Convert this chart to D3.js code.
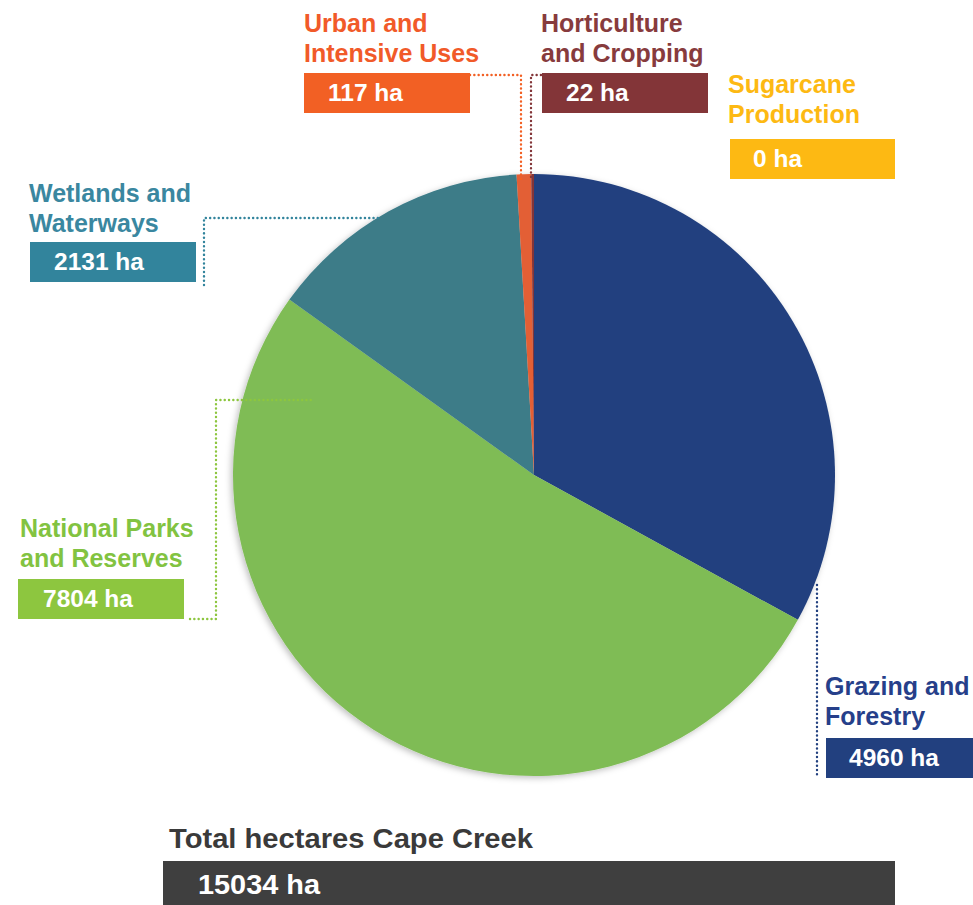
<!DOCTYPE html>
<html>
<head>
<meta charset="utf-8">
<script src="https://cdn.jsdelivr.net/npm/d3@7"></script>
<style>
	body { margin: 0; background: #fff; }
	svg { display: block; }
	.lbl { font-family: 'Liberation Sans', Arimo, sans-serif; font-weight: bold; font-size: 25px; }
	.val { font-family: 'Liberation Sans', Arimo, sans-serif; font-weight: bold; font-size: 24.5px; fill: #fff; }
</style>
</head>
<body>
<div id="chart"></div>
<script>
// land use categories, clockwise from 12 o'clock
const categories = [
	"Grazing and Forestry",
	"National Parks and Reserves",
	"Wetlands and Waterways",
	"Urban and Intensive Uses",
	"Horticulture and Cropping",
	"Sugarcane Production",
];
const hectares = [4960, 7804, 2131, 117, 22, 0];
const labelLines = [
	["Grazing and", "Forestry"],
	["National Parks", "and Reserves"],
	["Wetlands and", "Waterways"],
	["Urban and", "Intensive Uses"],
	["Horticulture", "and Cropping"],
	["Sugarcane", "Production"],
];
const sliceColors = ["#22407f", "#7fbc55", "#3c7b88", "#e35f35", "#833538", "#fdb913"];
const boxColors = ["#22407f", "#8dc63f", "#32849c", "#f26024", "#833538", "#fdb913"];
const textColors = ["#263f8a", "#82c341", "#3a87a0", "#f15a29", "#873b3d", "#fdb913"];
const totalTitle = "Total hectares Cape Creek";
const totalValue = 15034;

// label layout (text left x, first baseline y, box x/y/width)
const layout = [
	{ tx: 825, ty: 695, bx: 826, by: 738, bw: 160, vx: 849 },
	{ tx: 20, ty: 537, bx: 18, by: 579, bw: 166, vx: 43 },
	{ tx: 29, ty: 202, bx: 30, by: 242, bw: 166, vx: 54 },
	{ tx: 304, ty: 32, bx: 304, by: 73, bw: 166, vx: 328 },
	{ tx: 541, ty: 32, bx: 542, by: 73, bw: 166, vx: 566 },
	{ tx: 728, ty: 93, bx: 730, by: 139, bw: 165, vx: 753 },
];
// dotted leader lines
const leaders = [
	[[817, 585], [817, 778]],
	[[190, 619], [216, 619], [216, 400], [312, 400]],
	[[204, 285], [204, 218], [380, 218]],
	[[470, 75], [521, 75], [521, 180]],
	[[541, 75], [531, 75], [531, 180]],
	null,
];

const W = 973, H = 905;
const cx = 534, cy = 475, radius = 301;

const svg = d3.select("#chart")
	.append("svg")
	.attr("width", W)
	.attr("height", H);

const defs = svg.append("defs");
defs.append("filter")
	.attr("id", "shadow")
	.attr("x", "-10%").attr("y", "-10%")
	.attr("width", "120%").attr("height", "120%")
	.append("feDropShadow")
	.attr("dx", -2).attr("dy", 2)
	.attr("stdDeviation", 3)
	.attr("flood-color", "#000")
	.attr("flood-opacity", 0.25);

const data = categories.map((c, i) => ({ name: c, value: hectares[i], i }));

const pie = d3.pie()
	.sort(null)
	.value(d => d.value);

const arc = d3.arc()
	.innerRadius(0)
	.outerRadius(radius);

const g = svg.append("g")
	.attr("transform", `translate(${cx},${cy})`)
	.attr("filter", "url(#shadow)");

g.selectAll("path")
	.data(pie(data))
	.join("path")
	.attr("d", arc)
	.attr("fill", d => sliceColors[d.data.i]);

// leaders
const line = d3.line();
leaders.forEach((pts, i) => {
	if (!pts) return;
	svg.append("path")
		.attr("d", line(pts))
		.attr("fill", "none")
		.attr("stroke", boxColors[i])
		.attr("stroke-width", 2.4)
		.attr("stroke-linecap", "round")
		.attr("stroke-dasharray", "0.1,4.2");
});

// labels
data.forEach((d, i) => {
	const L = layout[i];
	const t = svg.append("text")
		.attr("class", "lbl")
		.attr("fill", textColors[i]);
	labelLines[i].forEach((s, k) => {
		t.append("tspan")
			.attr("x", L.tx)
			.attr("y", L.ty + k * 30)
			.text(s);
	});
	svg.append("rect")
		.attr("x", L.bx)
		.attr("y", L.by)
		.attr("width", L.bw)
		.attr("height", 40)
		.attr("fill", boxColors[i]);
	svg.append("text")
		.attr("class", "val")
		.attr("x", L.vx)
		.attr("y", L.by + 27.5)
		.text(`${d.value} ha`);
});

// total (narrow lettering)
svg.append("text")
	.attr("x", 169)
	.attr("y", 848)
	.attr("fill", "#3a3a3a")
	.attr("textLength", 364)
	.attr("lengthAdjust", "spacingAndGlyphs")
	.style("font-family", "'Liberation Sans', Arimo, sans-serif")
	.style("font-weight", "bold")
	.style("font-size", "28px")
	.text(totalTitle);

svg.append("rect")
	.attr("x", 163)
	.attr("y", 861)
	.attr("width", 732)
	.attr("height", 44)
	.attr("fill", "#3f3f3f");

svg.append("text")
	.attr("x", 198)
	.attr("y", 894)
	.attr("fill", "#fff")
	.attr("textLength", 122)
	.attr("lengthAdjust", "spacingAndGlyphs")
	.style("font-family", "'Liberation Sans', Arimo, sans-serif")
	.style("font-weight", "bold")
	.style("font-size", "28px")
	.text(`${totalValue} ha`);
</script>
</body>
</html>
